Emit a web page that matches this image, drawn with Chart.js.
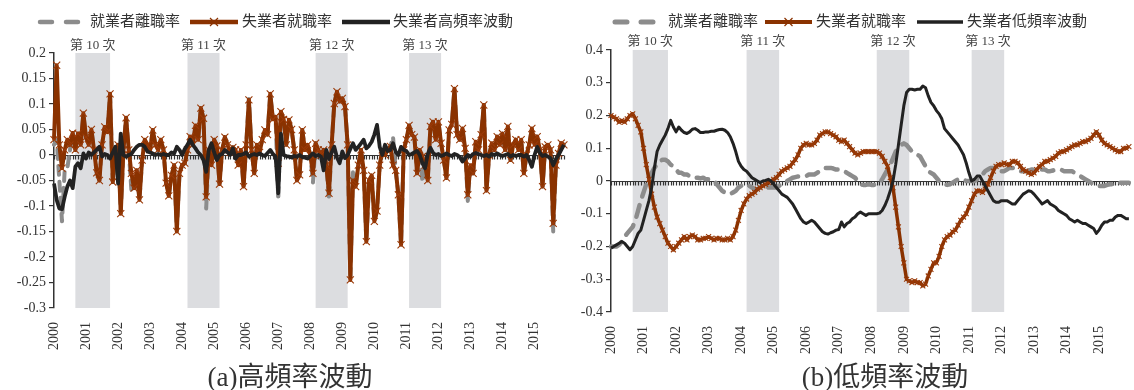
<!DOCTYPE html>
<html>
<head>
<meta charset="utf-8">
<script src="https://cdn.jsdelivr.net/npm/chart.js@4.4.0/dist/chart.umd.min.js"></script>
<style>
  body { margin: 0; background: #fff; }
  #wrap { position: relative; width: 1134px; height: 390px; overflow: hidden; }
  .panel { position: absolute; top: 0; height: 390px; }
</style>
</head>
<body>
<div id="wrap">
  <div class="panel" style="left:0;width:570px"><canvas id="chartHigh" width="570" height="390"></canvas></div>
  <div class="panel" style="left:570px;width:564px"><canvas id="chartLow" width="564" height="390"></canvas></div>
</div>
<script>
// 月資料 2000/01 ~ 2015/12
var years = [2000, 2001, 2002, 2003, 2004, 2005, 2006, 2007, 2008, 2009, 2010, 2011, 2012, 2013, 2014, 2015];
var monthLabels = [];
years.forEach(function (y) {
    for (var m = 1; m <= 12; m++) monthLabels.push(y + '-' + (m < 10 ? '0' + m : m));
});

// 景氣循環收縮期 (高峰 ~ 谷底)
var cycleNames = ['第 10 次', '第 11 次', '第 12 次', '第 13 次'];
var cyclePeak = ['2000-09', '2004-03', '2008-03', '2011-02'];
var cycleTrough = ['2001-09', '2005-02', '2009-02', '2012-01'];

var seriesNames = ['就業者離職率', '失業者就職率'];

// (a) 高頻率波動
var hfLeave = [
    0.02, 0.03, -0.05, -0.13, -0.03, -0.026, 0.01, 0.043, 0.01, 0.042, 0.02, 0.08,
    0.035, 0.02, 0.05, 0.01, -0.035, -0.05, 0.02, 0.055, 0.045, 0.118, -0.053, 0.01,
    0.02, -0.113, 0.01, 0.073, 0.01, -0.07, -0.065, -0.03, -0.088, -0.01, 0.03, 0.02,
    0.01, 0.049, 0.02, 0.01, 0.03, 0.01, -0.055, -0.08, -0.042, -0.02, -0.148, -0.036,
    -0.02, -0.016, 0.01, 0.036, 0.02, 0.058, 0.03, 0.092, 0.072, -0.105, 0.01, -0.02,
    0.03, 0.018, -0.057, 0.01, 0.035, 0.02, 0.005, 0.015, 0.01, -0.02, 0.01, -0.062,
    0.02, 0.11, 0.01, -0.036, 0.02, 0.005, 0.03, 0.049, 0.04, 0.12, 0.07, 0.075,
    -0.088, 0.085, 0.07, 0.02, 0.069, 0.05, 0.01, -0.05, -0.039, 0.049, 0.01, 0.02,
    0.0, -0.054, 0.023, 0.01, 0.0, 0.01, -0.02, -0.088, 0.02, 0.101, 0.124, 0.105,
    0.111, 0.095, 0.02, -0.245, -0.03, -0.062, -0.02, 0.01, -0.03, -0.17, -0.06, -0.04,
    -0.13, -0.11, -0.02, 0.01, 0.0, 0.01, 0.017, 0.035, -0.03, -0.078, -0.176, 0.01,
    0.03, 0.058, 0.04, 0.035, -0.036, 0.01, -0.053, -0.02, -0.05, 0.056, 0.065, 0.03,
    0.065, 0.023, -0.01, -0.045, 0.049, 0.06, 0.13, 0.04, 0.03, 0.052, 0.013, -0.09,
    -0.02, -0.036, 0.026, 0.01, 0.04, 0.098, -0.07, 0.0, 0.023, 0.01, 0.036, 0.02,
    0.042, 0.01, 0.056, -0.01, 0.02, 0.03, 0.01, 0.03, -0.036, 0.0, 0.02, 0.052,
    0.02, 0.036, 0.01, -0.062, 0.016, 0.02, 0.01, -0.15, -0.02, 0.003, 0.023, 0.02
];
var hfFind = [
    0.03, 0.176, 0.02, -0.026, 0.01, 0.03, 0.02, 0.043, 0.01, 0.042, 0.02, 0.082,
    0.035, 0.02, 0.05, 0.01, -0.035, -0.05, 0.02, 0.055, 0.045, 0.12, -0.053, 0.01,
    0.02, -0.115, 0.01, 0.073, 0.01, -0.036, -0.065, -0.03, -0.088, -0.01, 0.03, 0.02,
    0.01, 0.049, 0.02, 0.01, 0.03, 0.01, -0.055, -0.08, -0.04, -0.02, -0.15, -0.036,
    -0.02, -0.016, 0.01, 0.036, 0.02, 0.058, 0.03, 0.092, 0.072, -0.082, 0.01, -0.02,
    0.03, 0.018, -0.057, 0.01, 0.035, 0.02, 0.005, 0.015, 0.01, -0.02, 0.01, -0.062,
    0.02, 0.108, 0.01, -0.036, 0.02, 0.005, 0.03, 0.049, 0.04, 0.12, 0.07, 0.075,
    -0.016, 0.085, 0.07, 0.02, 0.069, 0.05, 0.01, -0.05, -0.039, 0.049, 0.01, 0.02,
    0.0, -0.036, 0.023, 0.01, 0.0, 0.01, -0.02, -0.075, 0.02, 0.101, 0.124, 0.105,
    0.111, 0.095, 0.02, -0.245, -0.05, -0.062, -0.02, 0.01, -0.03, -0.17, -0.05, -0.04,
    -0.13, -0.11, -0.02, 0.01, 0.0, 0.01, 0.017, -0.02, -0.03, -0.078, -0.176, 0.01,
    0.03, 0.058, 0.04, 0.035, -0.036, 0.01, -0.003, -0.02, -0.05, 0.056, 0.065, 0.03,
    0.065, 0.023, -0.01, -0.045, 0.049, 0.06, 0.13, 0.04, 0.03, 0.052, 0.013, -0.078,
    -0.02, -0.036, 0.026, 0.01, 0.04, 0.098, -0.07, 0.0, 0.023, 0.01, 0.036, 0.02,
    0.042, 0.01, 0.056, -0.01, 0.02, 0.03, 0.01, 0.03, -0.036, 0.0, 0.02, 0.052,
    0.02, 0.036, 0.01, -0.062, 0.016, 0.02, 0.01, -0.134, -0.02, 0.003, 0.023, 0.02
];
var hfUnemp = [
    -0.056, -0.088, -0.105, -0.106, -0.082, -0.062, -0.05, -0.065, -0.023, -0.016, -0.026, 0.003,
    -0.007, 0.005, 0.0, 0.005, 0.01, 0.016, -0.003, 0.002, 0.0, -0.007, 0.005, 0.016,
    -0.056, 0.042, 0.0, -0.003, 0.0, 0.002, 0.01, 0.016, 0.02, 0.02, 0.016, 0.007,
    0.005, 0.003, 0.0, 0.002, 0.0, 0.002, 0.0, 0.0, 0.005, 0.003, 0.016, 0.01,
    0.0, 0.012, 0.02, 0.03, 0.02, 0.013, 0.005, 0.0, -0.01, -0.033, 0.01, 0.023,
    0.005, -0.01, 0.0, 0.002, 0.01, 0.005, 0.0, 0.013, -0.007, 0.0, 0.0, 0.002,
    0.005, -0.003, 0.0, 0.002, 0.0, 0.003, 0.0, -0.002, 0.004, 0.01, 0.002, -0.003,
    -0.075, 0.042, 0.0, -0.002, -0.003, -0.005, -0.002, -0.003, 0.0, -0.004, -0.005, -0.007,
    -0.002, 0.003, -0.002, 0.0, -0.003, -0.03, 0.01, -0.008, 0.005, 0.016, -0.005, -0.016,
    0.007, -0.006, 0.0, 0.012, 0.023, 0.01, 0.016, 0.023, 0.03, 0.013, 0.018, 0.026,
    0.04, 0.059, 0.016, 0.0, 0.02, 0.008, 0.01, 0.023, 0.006, 0.0, 0.016, 0.01,
    0.008, 0.0, 0.002, 0.005, 0.008, 0.0, -0.016, -0.026, 0.002, 0.014, 0.004, 0.0,
    0.002, -0.002, 0.0, 0.003, 0.0, -0.002, 0.002, 0.0, -0.004, -0.013, -0.006, 0.0,
    -0.003, 0.002, 0.004, 0.002, 0.0, -0.002, 0.0, -0.003, 0.002, 0.0, 0.003, 0.0,
    -0.002, 0.0, 0.002, -0.003, 0.0, -0.002, 0.0, 0.0, -0.003, 0.0, -0.01, -0.023,
    0.0, 0.016, 0.004, -0.002, 0.0, -0.003, -0.006, -0.02, -0.008, 0.0, 0.01, 0.02
];

// (b) 低頻率波動
var lfLeave = [
    -0.2, -0.2, -0.2, -0.195, -0.185, -0.17, -0.16, -0.15, -0.14, -0.12, -0.09, -0.06,
    -0.035, -0.01, 0.01, 0.025, 0.04, 0.05, 0.06, 0.065, 0.065, 0.06, 0.05, 0.045,
    0.035, 0.025, 0.025, 0.02, 0.02, 0.015, 0.01, 0.01, 0.01, 0.008, 0.01, 0.005,
    0.005, 0.005, 0.0, -0.01, -0.02, -0.03, -0.035, -0.04, -0.04, -0.035, -0.03, -0.02,
    -0.015, -0.01, -0.01, -0.015, -0.02, -0.025, -0.025, -0.02, -0.015, -0.015, -0.02, -0.02,
    -0.02, -0.02, -0.015, -0.01, -0.005, 0.0, 0.005, 0.01, 0.012, 0.014, 0.015, 0.015,
    0.015, 0.02, 0.02, 0.02, 0.025, 0.03, 0.035, 0.04, 0.04, 0.04, 0.038, 0.035,
    0.035, 0.034, 0.03, 0.025, 0.02, 0.015, 0.01, 0.0, -0.01, -0.012, -0.012, -0.01,
    -0.012, -0.012, -0.01, -0.005, 0.005, 0.02, 0.035, 0.05, 0.07, 0.09, 0.1, 0.11,
    0.115, 0.11, 0.1, 0.09, 0.085, 0.08, 0.075, 0.06, 0.045, 0.03, 0.025, 0.02,
    0.01, 0.0, -0.005, -0.01, -0.012, -0.01, -0.005, 0.0, 0.005, 0.005, 0.005, 0.0,
    0.0, 0.0, 0.0, 0.005, 0.01, 0.02, 0.03, 0.035, 0.04, 0.04, 0.035, 0.03,
    0.03, 0.03, 0.035, 0.04, 0.04, 0.038, 0.035, 0.03, 0.03, 0.03, 0.032, 0.035,
    0.035, 0.035, 0.035, 0.035, 0.035, 0.03, 0.03, 0.032, 0.035, 0.035, 0.035, 0.03,
    0.03, 0.03, 0.03, 0.025, 0.02, 0.015, 0.01, 0.005, 0.0, -0.005, -0.01, -0.012,
    -0.015, -0.015, -0.015, -0.012, -0.01, -0.01, -0.008, -0.005, -0.005, -0.005, -0.005, -0.005
];
var lfFind = [
    0.2, 0.195, 0.19, 0.18, 0.185, 0.18, 0.19, 0.2, 0.205, 0.19, 0.17, 0.15,
    0.1, 0.05, 0.005, -0.04, -0.08, -0.11, -0.13, -0.15, -0.17, -0.19, -0.2, -0.21,
    -0.2, -0.19, -0.18, -0.17, -0.18, -0.17, -0.165, -0.17, -0.18, -0.18, -0.175, -0.175,
    -0.17, -0.175, -0.18, -0.175, -0.175, -0.18, -0.18, -0.175, -0.18, -0.17, -0.15, -0.12,
    -0.09, -0.07, -0.055, -0.045, -0.04, -0.035, -0.025, -0.02, -0.015, -0.01, -0.005, 0.0,
    0.005, 0.01, 0.02, 0.03, 0.035, 0.04, 0.045, 0.055, 0.065, 0.08, 0.1, 0.11,
    0.115, 0.11, 0.11, 0.115, 0.125, 0.14, 0.145, 0.15, 0.15, 0.145, 0.14, 0.135,
    0.125, 0.12, 0.125, 0.115, 0.105, 0.095, 0.085, 0.08, 0.085, 0.09, 0.09, 0.09,
    0.09, 0.09, 0.09, 0.085, 0.075, 0.06, 0.045, 0.01, -0.02, -0.08, -0.14, -0.2,
    -0.25, -0.3, -0.305, -0.31, -0.305, -0.31, -0.31, -0.32, -0.315, -0.29, -0.27, -0.25,
    -0.25, -0.23, -0.2, -0.18, -0.17, -0.165, -0.155, -0.15, -0.135, -0.12, -0.11, -0.1,
    -0.08, -0.06, -0.04, -0.03, -0.03, -0.035, -0.025, -0.01, 0.01, 0.03, 0.045, 0.05,
    0.05, 0.055, 0.05, 0.05, 0.06, 0.06, 0.055, 0.045, 0.035, 0.03, 0.025, 0.02,
    0.025, 0.035, 0.045, 0.05, 0.06, 0.06, 0.065, 0.07, 0.075, 0.085, 0.09, 0.09,
    0.095, 0.1, 0.105, 0.11, 0.11, 0.115, 0.12, 0.12, 0.125, 0.13, 0.14, 0.15,
    0.14, 0.125, 0.115, 0.11, 0.105, 0.1, 0.095, 0.09, 0.09, 0.1, 0.1, 0.105
];
var lfUnemp = [
    -0.205, -0.2, -0.195, -0.19, -0.185, -0.19, -0.2, -0.21, -0.2, -0.18, -0.16, -0.15,
    -0.12, -0.09, -0.06, -0.02, 0.04, 0.09, 0.11, 0.125, 0.14, 0.16, 0.185, 0.165,
    0.15, 0.165, 0.155, 0.148, 0.145, 0.15, 0.158, 0.16, 0.155, 0.148, 0.148, 0.15,
    0.15, 0.152, 0.152, 0.155, 0.157, 0.158, 0.155, 0.148, 0.135, 0.115, 0.09, 0.06,
    0.045, 0.035, 0.03, 0.02, 0.01, 0.005, 0.0, -0.005, 0.0, 0.002, 0.005, 0.0,
    -0.01, -0.02, -0.03, -0.04, -0.045, -0.05, -0.06, -0.07, -0.085, -0.1, -0.115, -0.125,
    -0.13, -0.125, -0.12, -0.125, -0.135, -0.145, -0.155, -0.16, -0.162, -0.158, -0.155, -0.15,
    -0.148, -0.125, -0.14, -0.13, -0.125, -0.115, -0.11, -0.1, -0.095, -0.1, -0.105, -0.1,
    -0.1, -0.1, -0.1, -0.098, -0.09, -0.075, -0.055, -0.03, 0.0, 0.05, 0.11, 0.17,
    0.23, 0.27, 0.28, 0.28, 0.278, 0.28, 0.28, 0.29, 0.285, 0.26, 0.24, 0.23,
    0.215, 0.205, 0.19, 0.16, 0.15, 0.14, 0.13, 0.12, 0.11, 0.095, 0.08, 0.055,
    0.025, 0.0, 0.005, 0.015, 0.015, 0.0, -0.015, -0.03, -0.045, -0.06, -0.065, -0.065,
    -0.06, -0.06, -0.06, -0.065, -0.07, -0.07, -0.06, -0.05, -0.04, -0.035, -0.03, -0.032,
    -0.04, -0.05, -0.06, -0.07, -0.065, -0.06, -0.07, -0.075, -0.08, -0.09, -0.095, -0.1,
    -0.105, -0.115, -0.12, -0.125, -0.12, -0.125, -0.13, -0.13, -0.135, -0.14, -0.145, -0.16,
    -0.15, -0.135, -0.125, -0.125, -0.12, -0.12, -0.11, -0.105, -0.105, -0.11, -0.115, -0.115
];

var GRAY = '#8c8c8c', RUST = '#8a3200', INK = '#222222', TXT = '#333333';
var SERIF = "'Liberation Serif', 'Noto Sans CJK TC', serif";

Chart.defaults.font.family = SERIF;
Chart.defaults.color = TXT;

// 背景色塊、零軸、圖例、標題
var decor = {
    id: 'decor',
    beforeDatasetsDraw: function (chart, args, o) {
        var ctx = chart.ctx, a = chart.chartArea, xs = chart.scales.x, ys = chart.scales.y;
        ctx.save();
        cyclePeak.forEach(function (p, i) {
            var x0 = xs.getPixelForValue(monthLabels.indexOf(p));
            var x1 = xs.getPixelForValue(monthLabels.indexOf(cycleTrough[i]) + 1);
            ctx.fillStyle = '#dcdde0';
            ctx.fillRect(x0, a.top, x1 - x0, a.bottom - a.top);
            ctx.fillStyle = '#444';
            ctx.font = '13px ' + SERIF;
            ctx.textAlign = 'center';
            ctx.textBaseline = 'middle';
            ctx.fillText(cycleNames[i], (x0 + x1) / 2, o.bandLabelY);
        });
        // 零軸與每月刻度
        var y0 = Math.round(ys.getPixelForValue(0)) + 0.5;
        ctx.strokeStyle = '#333';
        ctx.lineWidth = 1.2;
        ctx.beginPath();
        ctx.moveTo(a.left, y0);
        ctx.lineTo(a.right, y0);
        for (var i = 0; i < monthLabels.length; i++) {
            var xp = Math.round(xs.getPixelForValue(i)) + 0.5;
            ctx.moveTo(xp, y0);
            ctx.lineTo(xp, y0 + 4);
        }
        ctx.stroke();
        ctx.restore();
    },
    afterDraw: function (chart, args, o) {
        var ctx = chart.ctx;
        ctx.save();
        ctx.textBaseline = 'middle';
        chart.data.datasets.forEach(function (ds, i) {
            var it = o.legend[i];
            ctx.strokeStyle = ds.borderColor;
            ctx.lineWidth = ds.borderWidth + 0.5;
            ctx.lineCap = ds.borderDash ? 'round' : 'butt';
            ctx.setLineDash(ds.borderDash ? [12, 14] : []);
            ctx.beginPath();
            ctx.moveTo(it.x0, o.legendY);
            ctx.lineTo(it.x1, o.legendY);
            ctx.stroke();
            ctx.setLineDash([]);
            if (ds.pointStyle === 'crossRot') {
                var cx = (it.x0 + it.x1) / 2, r = 4;
                ctx.lineWidth = 1.2;
                ctx.beginPath();
                ctx.moveTo(cx - r, o.legendY - r); ctx.lineTo(cx + r, o.legendY + r);
                ctx.moveTo(cx + r, o.legendY - r); ctx.lineTo(cx - r, o.legendY + r);
                ctx.stroke();
            }
            ctx.fillStyle = TXT;
            ctx.font = '15px ' + SERIF;
            ctx.textAlign = 'left';
            ctx.fillText(ds.label, it.tx, o.legendY);
        });
        ctx.font = '27px ' + SERIF;
        ctx.textAlign = 'center';
        ctx.fillText(o.caption, o.captionX, o.captionY);
        ctx.restore();
    }
};

function makeChart(id, sets, opt) {
    return new Chart(document.getElementById(id), {
        type: 'line',
        data: {
            labels: monthLabels,
            datasets: [
                {
                    label: seriesNames[0], data: sets[0], order: 3,
                    borderColor: GRAY, borderWidth: opt.grayWidth, borderDash: opt.dash,
                    borderCapStyle: 'round', pointRadius: 0
                },
                {
                    label: seriesNames[1], data: sets[1], order: 2,
                    borderColor: RUST, borderWidth: opt.rustWidth,
                    pointStyle: 'crossRot', pointRadius: opt.markR,
                    pointBorderColor: '#9a3a08', pointBorderWidth: 1.1, pointBackgroundColor: RUST
                },
                {
                    label: opt.unempName, data: sets[2], order: 1,
                    borderColor: INK, borderWidth: opt.inkWidth, pointRadius: 0
                }
            ]
        },
        options: {
            responsive: false,
            animation: false,
            events: [],
            layout: { padding: { top: opt.top, right: opt.right, left: 0, bottom: 0 } },
            elements: { line: { tension: 0, borderJoinStyle: 'round' } },
            scales: {
                x: {
                    grid: { display: false },
                    border: { display: false },
                    afterFit: function (s) {
                        s.height = opt.xHeight;
                        s.paddingLeft = 0;
                        s.paddingRight = 0;
                    },
                    ticks: {
                        autoSkip: false, minRotation: 90, maxRotation: 90, padding: 6,
                        font: { size: 14 },
                        callback: function (v, i) { return i % 12 === 0 ? monthLabels[i].slice(0, 4) : ''; }
                    }
                },
                y: {
                    min: opt.min, max: opt.max,
                    afterFit: function (s) { s.width = opt.yWidth; },
                    grid: { drawOnChartArea: false, tickLength: 5, color: '#333', lineWidth: 1.2 },
                    border: { color: '#333', width: 1.5 },
                    ticks: {
                        stepSize: opt.step, padding: 3, font: { size: 14 },
                        callback: function (v) { return String(+v.toFixed(2)); }
                    }
                }
            },
            plugins: {
                legend: { display: false },
                tooltip: { enabled: false },
                decor: opt.decor
            }
        },
        plugins: [decor]
    });
}

makeChart('chartHigh', [hfLeave, hfFind, hfUnemp], {
    unempName: '失業者高頻率波動',
    grayWidth: 4, dash: [9, 7], rustWidth: 4, markR: 5, inkWidth: 3.8,
    top: 53, right: 3, xHeight: 82, yWidth: 54, min: -0.3, max: 0.2, step: 0.05,
    decor: {
        bandLabelY: 46, legendY: 22,
        legend: [{ x0: 40, x1: 78, tx: 90 }, { x0: 190, x1: 238, tx: 242 }, { x0: 342, x1: 390, tx: 393 }],
        caption: '(a)高頻率波動', captionX: 290, captionY: 379
    }
});

makeChart('chartLow', [lfLeave, lfFind, lfUnemp], {
    unempName: '失業者低頻率波動',
    grayWidth: 4.5, dash: [12, 9], rustWidth: 3.5, markR: 3.5, inkWidth: 3,
    top: 50, right: 0, xHeight: 78, yWidth: 41, min: -0.4, max: 0.4, step: 0.1,
    decor: {
        bandLabelY: 42, legendY: 22,
        legend: [{ x0: 45, x1: 85, tx: 98 }, { x0: 195, x1: 242, tx: 246 }, { x0: 347, x1: 393, tx: 397 }],
        caption: '(b)低頻率波動', captionX: 315, captionY: 379
    }
});
</script>
</body>
</html>
